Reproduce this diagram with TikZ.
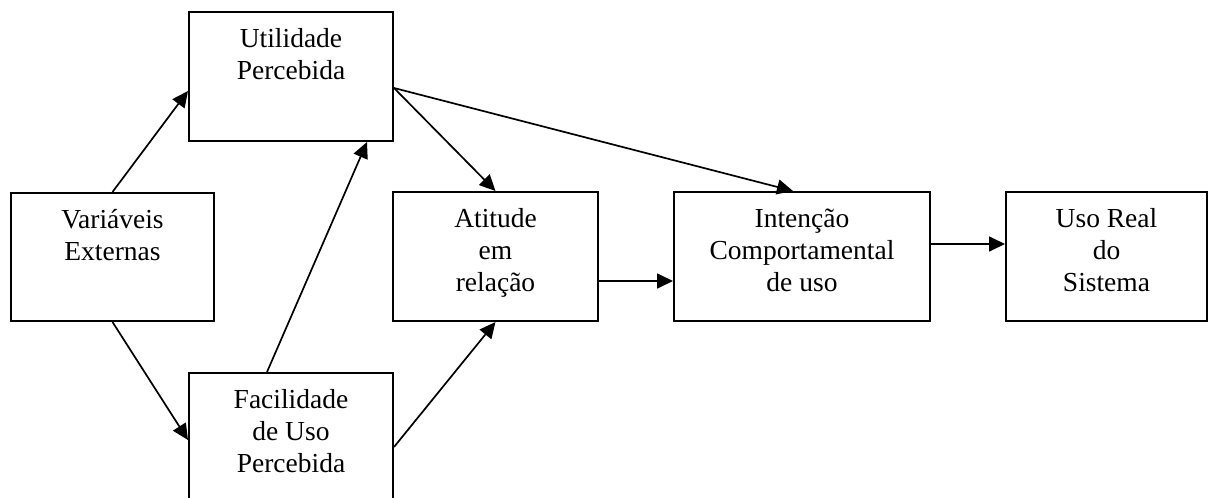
\documentclass[tikz,border=0pt]{standalone}
\usepackage{fontspec}
\setmainfont{Liberation Serif}
\usetikzlibrary{arrows.meta,calc}
\newcommand\boxtxt[3]{\parbox[t][#1][t]{#2}{\centering\rule{0pt}{35pt}#3}}
\begin{document}
\begin{tikzpicture}[x=1pt,y=-1pt,
  box/.style={draw, line width=2pt, inner sep=0pt, anchor=north west, font=\fontsize{27.5}{32}\selectfont},
  arr/.style={line width=1.7pt, -{Triangle[length=16pt,width=15pt]}}]
\clip (0,0) rectangle (1208,498);
\node[box] (U) at (188,11) {\boxtxt{129pt}{204pt}{Utilidade\\Percebida}};
\node[box] (V) at (10,192) {\boxtxt{128pt}{203pt}{Variáveis\\Externas}};
\node[box] (F) at (188,372) {\boxtxt{140pt}{204pt}{Facilidade\\de Uso\\Percebida}};
\node[box] (A) at (392,191) {\boxtxt{129pt}{205pt}{Atitude\\em\\relação}};
\node[box] (I) at (673,191) {\boxtxt{129pt}{256pt}{Intenção\\Comportamental\\de uso}};
\node[box] (R) at (1005,191) {\boxtxt{129pt}{201pt}{Uso Real\\do\\Sistema}};
\draw[arr] (V.north) -- ([yshift=-14.5pt]U.west);
\draw[arr] (V.south) -- ($(F.north west)+(0,68)$);
\draw[arr] ($(F.north west)+(79,0)$) -- ($(U.south west)+(179,0)$);
\draw[arr] ($(F.north east)+(0,75)$) -- (A.south);
\draw[arr] ($(U.north east)+(0,77)$) -- (A.north);
\draw[arr] ($(U.north east)+(0,77)$) -- ($(I.north west)+(120,0)$);
\draw[arr] ($(A.north east)+(0,90)$) -- ($(I.north west)+(0,90)$);
\draw[arr] ($(I.north east)+(0,53)$) -- ($(R.north west)+(0,53)$);
\end{tikzpicture}
\end{document}
